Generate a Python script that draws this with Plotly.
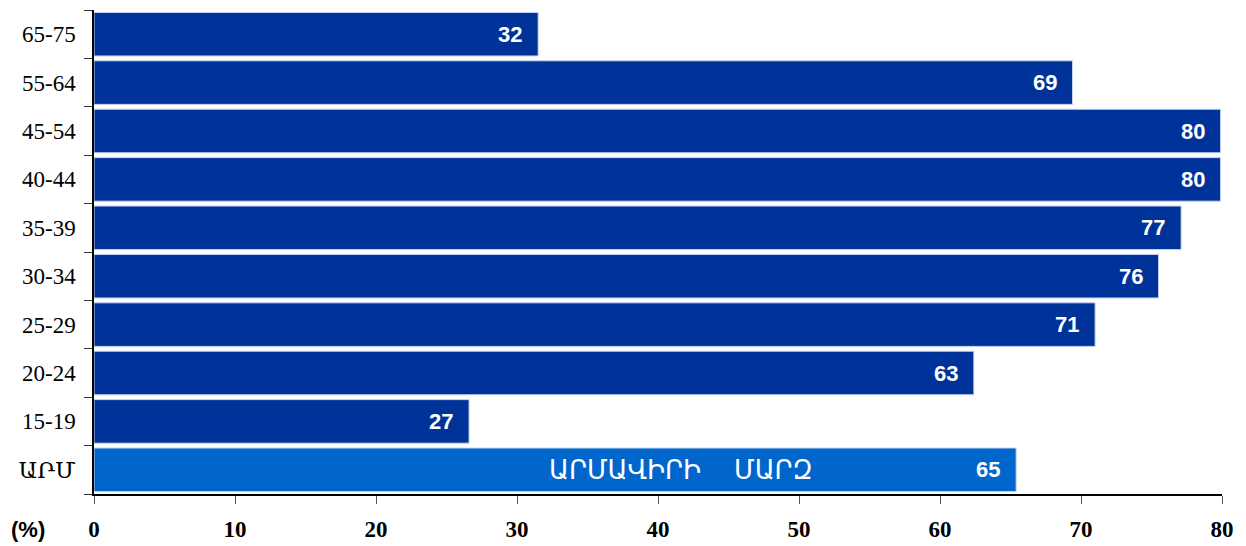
import plotly.graph_objects as go

categories = ["ԱՐՄ", "15-19", "20-24", "25-29", "30-34", "35-39", "40-44", "45-54", "55-64", "65-75"]
values = [65.4, 26.6, 62.4, 71.0, 75.5, 77.1, 79.9, 79.9, 69.4, 31.5]
labels = ["65", "27", "63", "71", "76", "77", "80", "80", "69", "32"]
colors = ["#0066CC"] + ["#003399"] * 9
x_ticks = [0, 10, 20, 30, 40, 50, 60, 70, 80]

fig = go.Figure()
fig.add_trace(go.Bar(
    y=categories, x=values, orientation="h",
    marker=dict(color=colors, line=dict(color="#C8D4F0", width=1)),
    hoverinfo="skip",
))

for cat, val, lab in zip(categories, values, labels):
    fig.add_annotation(x=val, y=cat, xref="x", yref="y", text="<b>" + lab + "</b>",
                       xanchor="right", xshift=-14, showarrow=False,
                       font=dict(family="Liberation Sans, Arial", size=22, color="white"))

fig.add_annotation(x=41.6, y="ԱՐՄ", xref="x", yref="y", text="ԱՐՄԱՎԻՐԻ    ՄԱՐԶ",
                   showarrow=False, font=dict(family="DejaVu Sans, Noto Sans", size=26, color="white"))
fig.add_annotation(x=-0.0585, y=-0.0725, xref="paper", yref="paper", xanchor="center", yanchor="middle",
                   text="<b>(%)</b>", showarrow=False,
                   font=dict(family="Liberation Sans, Arial", size=22, color="black"))

fig.update_layout(
    width=1238, height=538,
    margin=dict(l=86, r=24, t=2, b=52),
    plot_bgcolor="white", paper_bgcolor="white",
    bargap=0.1, showlegend=False,
)
fig.update_xaxes(range=[0, 80], tickvals=x_ticks, showgrid=False, zeroline=False,
                 showline=True, linecolor="black", linewidth=1.5,
                 ticks="outside", ticklen=8, tickcolor="#555", ticklabelstandoff=6,
                 tickfont=dict(family="Liberation Serif, DejaVu Serif", size=23, color="black", weight="bold"))
fig.update_yaxes(categoryorder="array", categoryarray=categories, showgrid=False,
                 showline=True, linecolor="black", linewidth=1.5,
                 ticks="outside", ticklen=8, tickcolor="#333", tickson="boundaries",
                 ticklabelstandoff=12,
                 tickfont=dict(family="Liberation Serif, DejaVu Serif", size=23, color="black"))

fig.write_html("out.html")
